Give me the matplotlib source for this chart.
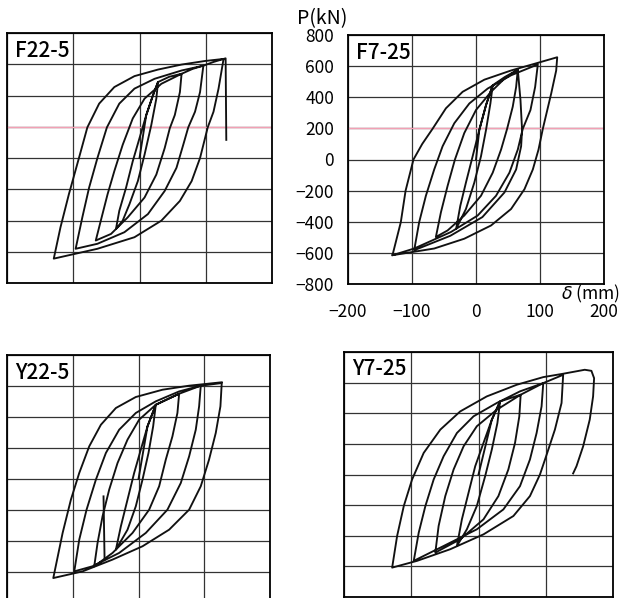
import matplotlib
matplotlib.use("Agg")
import matplotlib.pyplot as plt

plt.rcParams['font.family'] = ['Noto Sans CJK JP', 'DejaVu Sans']

# load-displacement histories (delta in mm, P in kN)
f22_5_d = [0, 10.2, 20.3, 27.9,
           25.4, 17.8, 7.6, -2.5, -15.2, -25.4, -35.5,
           -30.5, -20.3, -10.2, 0, 10.2, 20.3, 27.9,
           45, 63.5,
           61, 53.3, 45.7, 38, 25.4, 7.6, -17.8, -43, -66,
           -58.4, -48.2, -38, -25.4, -10.2, 7.6, 33, 63.5,
           80, 96.4,
           91.4, 83.8, 73.6, 66, 55.8, 38, 12.7, -22.8, -63.5, -96.4,
           -86.3, -76.1, -63.5, -49.2, -30.5, -7.6, 22.8, 63.5, 96.4,
           112, 126.9,
           119.3, 111.7, 103, 91.4, 78.7, 60.9, 33, -7.6, -63.5, -129.4,
           -119.3, -106.6, -91.4, -78.7, -60.9, -38, -7.6, 27.9, 63.5, 99, 126.9,
           130, 131]
f22_5_p = [0, 275, 401, 486,
           380, 211, 21, -148, -296, -401, -454,
           -338, -190, -21, 127, 275, 401, 486,
           520, 539,
           422, 275, 190, 63, -106, -253, -380, -486, -528,
           -401, -232, -84, 84, 253, 380, 475, 539,
           570, 591,
           422, 296, 196, 84, -63, -211, -359, -475, -549, -581,
           -380, -190, 0, 196, 348, 444, 507, 560, 591,
           615, 634,
           444, 296, 196, 0, -148, -275, -401, -507, -581, -644,
           -444, -232, 0, 196, 348, 454, 524, 566, 598, 621, 634,
           638, 116]

f7_25_d = [0, 5.2, 15.7, 26.1,
           22.5, 15.7, 7.8, -2.6, -15.7, -31,
           -24.5, -15.7, -5.2, 5.2, 15.7, 26.1,
           45, 65.3,
           62.7, 57.4, 48.6, 39.2, 26.1, 7.8, -18.3, -44.4, -62.7,
           -54.8, -44.4, -32.9, -18.3, 0, 23.5, 44.4, 65.3,
           69.5, 72, 70.5, 62.7, 44.4, 10, -40, -96.6,
           -88.8, -78.3, -65.3, -52.2, -33.9, -10.4, 18.3, 54.8, 96.6,
           92.4, 85.1, 73.1, 65.3, 52.2, 31.3, 2.6, -39.2, -96.6,
           -130.5,
           -117.5, -110, -97.7, -84, -67.9, -47, -20.9, 13.1, 54.8, 91.4, 126.9,
           125.3, 117.5, 104.4, 97.7, 88.8, 75.7, 54.8, 23.5, -18.3, -65.3, -130.5]
f7_25_p = [0, 191, 350, 477,
           360, 191, 21, -148, -318, -445,
           -297, -148, 21, 191, 350, 477,
           530, 577,
           466, 339, 197, 64, -85, -233, -360, -456, -498,
           -339, -170, 0, 170, 318, 435, 519, 577,
           382, 191, 85, -64, -212, -370, -490, -583,
           -403, -233, -64, 85, 233, 360, 456, 541, 611,
           466, 318, 197, 64, -85, -233, -360, -466, -572,
           -615,
           -403, -200, 0, 100, 197, 329, 435, 513, 572, 615, 657,
           572, 424, 197, 64, -64, -191, -318, -424, -509, -572, -615]

y22_5_d = [0, 13.7, 26.3,
           22.3, 15.2, 6.1, -4.1, -16.7, -34.4,
           -26.8, -16.7, -6.6, 3.5, 13.7, 26.3,
           61.8,
           59.2, 51.6, 41.5, 31.4, 16.2, -9.1, -39.5, -67.3,
           -62.3, -54.7, -44.6, -31.9, -16.7, 1, 26.3, 61.8,
           94.7,
           92.2, 87.1, 77, 64.3, 44, 11.1, -29.4, -69.9, -97.7,
           -90.1, -79, -64.8, -49.6, -29.4, -4.1, 26.3, 61.8, 94.7,
           126.6,
           124.6, 117.5, 107.3, 94.7, 77, 46.6, 6.1, -39.5, -85.1, -129.6,
           -115.4, -102.8, -90.1, -74.9, -57.2, -34.4, -4.1, 36.5, 77, 126.6]
y22_5_p = [0, 340, 479,
           340, 168, -4, -176, -327, -456,
           -305, -133, 39, 189, 340, 479,
           550,
           426, 275, 125, -47, -198, -348, -477, -563,
           -413, -241, -69, 103, 254, 383, 479, 550,
           602,
           469, 318, 146, -26, -198, -348, -477, -563, -596,
           -391, -198, -4, 168, 318, 426, 501, 565, 602,
           619,
           469, 297, 125, -47, -198, -327, -434, -520, -596, -639,
           -348, -133, 39, 211, 350, 458, 529, 576, 602, 624]
y22_5_spike_d = [-53.2, -51.6]
y22_5_spike_p = [-112, -520]

y7_25_d = [0, 19.8, 32.1,
           28.1, 19.8, 9.9, -2.5, -17.3, -32.1,
           -24.7, -14.8, -4.9, 7.4, 19.8, 32.1,
           62.7,
           60.7, 54.3, 44.4, 29.6, 7.4, -27.2, -64.2,
           -59.3, -49.4, -37, -22.2, -2.5, 27.2, 62.7,
           96.3,
           93.8, 86.4, 76.5, 61.7, 37, -2.5, -51.9, -96.3,
           -88.9, -79, -66.7, -51.9, -32.1, -7.4, 27.2, 61.7, 96.3,
           125.9,
           123.5, 113.6, 102.2, 91.4, 76.5, 51.9, 7.4, -42, -91.4, -128.4,
           -121, -111.1, -98.8, -81.5, -56.8, -27.2, 12.3, 56.8, 96.3, 125.9,
           158, 167.9, 171.9, 170.4, 165.4, 155.6, 145.7, 140.7]
y7_25_p = [0, 358, 477,
           336, 163, -11, -206, -358, -467,
           -293, -119, 54, 206, 358, 477,
           521,
           380, 206, 33, -141, -293, -423, -510,
           -336, -141, 33, 184, 315, 423, 521,
           597,
           445, 271, 98, -76, -228, -358, -467, -564,
           -380, -206, -33, 119, 271, 380, 467, 543, 597,
           651,
           467, 293, 141, 0, -141, -271, -391, -488, -564, -608,
           -401, -206, -33, 141, 293, 412, 510, 586, 636, 658,
           684, 677, 629, 510, 358, 184, 54, 7]

specimen_names = ['F22-5', 'F7-25', 'Y22-5', 'Y7-25']
x_ticks = [-200, -100, 0, 100, 200]
y_ticks = [-800, -600, -400, -200, 0, 200, 400, 600, 800]

W, H = 620, 598
fig = plt.figure(figsize=(W / 100, H / 100), dpi=100)


def panel(left, top, right, bottom):
    ax = fig.add_axes([left / W, 1 - bottom / H, (right - left) / W, (bottom - top) / H])
    ax.set_xlim(-200, 200)
    ax.set_ylim(-800, 800)
    ax.set_xticks(x_ticks)
    ax.set_yticks(y_ticks)
    ax.grid(True, color='#333333', lw=0.9)
    ax.set_axisbelow(True)
    ax.tick_params(length=0, labelbottom=False, labelleft=False)
    for s in ax.spines.values():
        s.set_linewidth(1.3)
    return ax


axes = [panel(7, 33, 272, 283), panel(348, 35, 604, 284),
        panel(7, 355, 270, 603), panel(344, 352, 613, 597)]
curves = [(f22_5_d, f22_5_p), (f7_25_d, f7_25_p),
          (y22_5_d, y22_5_p), (y7_25_d, y7_25_p)]

for ax, (d, p), name in zip(axes, curves, specimen_names):
    ax.plot(d, p, color='#111111', lw=1.35, clip_on=False, zorder=3)
    ax.text(0.03, 0.905, name, transform=ax.transAxes, fontsize=15,
            fontweight='medium', va='baseline', ha='left', zorder=5)

axes[2].plot(y22_5_spike_d, y22_5_spike_p, color='#111111', lw=1.35, zorder=3)

# faint red scan line at the 200 kN level on the upper row
for ax in axes[:2]:
    ax.axhline(200, color='#f2a0b4', lw=1.0, zorder=2)

ax2 = axes[1]
ax2.tick_params(labelleft=True, labelbottom=True, labelsize=12.5)
ax2.tick_params(axis='y', pad=10)
ax2.tick_params(axis='x', pad=14)

fig.text(322 / W, 1 - 19 / H, 'P(kN)', fontsize=14, ha='center', va='center')
fig.text(590 / W, 1 - 299 / H, r'$\delta$ (mm)', fontsize=12.5, ha='center', va='baseline')

fig.savefig('out.png', dpi=100)
